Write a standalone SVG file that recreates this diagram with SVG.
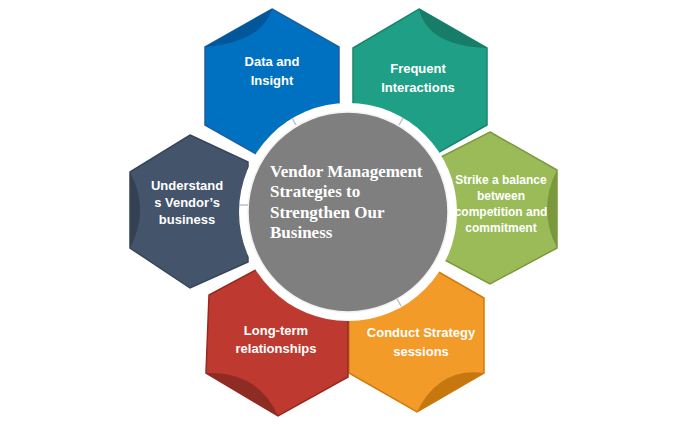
<svg xmlns="http://www.w3.org/2000/svg" width="684" height="424" viewBox="0 0 684 424">
<style>
.hex{stroke-width:1.5;stroke-linejoin:miter}
.lbl{font-family:"Liberation Sans",Arial,sans-serif;font-weight:bold;font-size:13px;fill:#ffffff;text-anchor:middle}
.sm{font-size:12px}
.ctr{font-family:"Liberation Serif","Times New Roman",serif;font-weight:bold;font-size:17px;fill:#ffffff}
.tick{stroke:#BFBFBF;stroke-width:1.5}
</style>
<rect width="684" height="424" fill="#ffffff"/>
<g id="data-insight">
<polygon class="hex" points="272,9 339,47 339,125 272,163 205,125 205,47" fill="#0070C0" stroke="#1B5FA0"/>
<path d="M205,47 L272,9 Q262,42 205,47 Z" fill="#02579A"/>
</g>
<g id="frequent-interactions">
<polygon class="hex" points="419,9 487,48 487,125 420,163 353,125 353,48" fill="#1FA086" stroke="#16856E"/>
<path d="M419,9 L487,48 Q428,46 419,9 Z" fill="#177C68"/>
</g>
<g id="strike-balance">
<polygon class="hex" points="490,132 557,170 557,248 490,284 439,257 439,158" fill="#9BBB59" stroke="#7A9A3C"/>
<path d="M557,170 L557,248 Q537,209 557,170 Z" fill="#7A983E"/>
</g>
<g id="conduct-strategy">
<polygon class="hex" points="416,259 484,298 484,373 417,412 349,373 349,298" fill="#F29B28" stroke="#D07C0C"/>
<path d="M417,412 L484,373 Q439,367 417,412 Z" fill="#C6770E"/>
</g>
<g id="long-term">
<polygon class="hex" points="278,258 348,297 348,377 278,416 206,373 209,295" fill="#BE3A30" stroke="#98291F"/>
<path d="M206,373 L278,416 Q258,371 206,373 Z" fill="#8E2B23"/>
</g>
<g id="understand-vendor">
<polygon class="hex" points="190,135 248,162 248,262 190,288 130,248 130,172" fill="#44546A" stroke="#37455A"/>
<path d="M130,172 L130,248 Q150,210 130,172 Z" fill="#344152"/>
</g>
<g id="center">
<circle cx="348" cy="212" r="109" fill="#ffffff"/>
<circle cx="348" cy="212" r="100" fill="#7F7F7F" stroke="#F2F2F2" stroke-width="1.5"/>
</g>
<g id="connectors">
<line class="tick" x1="296" y1="125" x2="292" y2="118"/>
<line class="tick" x1="399" y1="125" x2="403" y2="118"/>
<line class="tick" x1="248" y1="205" x2="239" y2="205"/>
<line class="tick" x1="397" y1="299" x2="401" y2="306"/>
</g>
<g id="labels">
<text class="lbl" x="272" y="66">Data and</text>
<text class="lbl" x="272" y="85">Insight</text>
<text class="lbl" x="418" y="73">Frequent</text>
<text class="lbl" x="418" y="92">Interactions</text>
<text class="lbl sm" x="501" y="184">Strike a balance</text>
<text class="lbl sm" x="501" y="200">between</text>
<text class="lbl sm" x="501" y="216">competition and</text>
<text class="lbl sm" x="501" y="232">commitment</text>
<text class="lbl" x="187" y="190">Understand</text>
<text class="lbl" x="187" y="207">s Vendor’s</text>
<text class="lbl" x="187" y="224">business</text>
<text class="lbl" x="276" y="335">Long-term</text>
<text class="lbl" x="276" y="353">relationships</text>
<text class="lbl" x="421" y="337">Conduct Strategy</text>
<text class="lbl" x="421" y="356">sessions</text>
<text class="ctr" x="270" y="177">Vendor Management</text>
<text class="ctr" x="270" y="197">Strategies to</text>
<text class="ctr" x="270" y="218">Strengthen Our</text>
<text class="ctr" x="270" y="238">Business</text>
</g>
</svg>
